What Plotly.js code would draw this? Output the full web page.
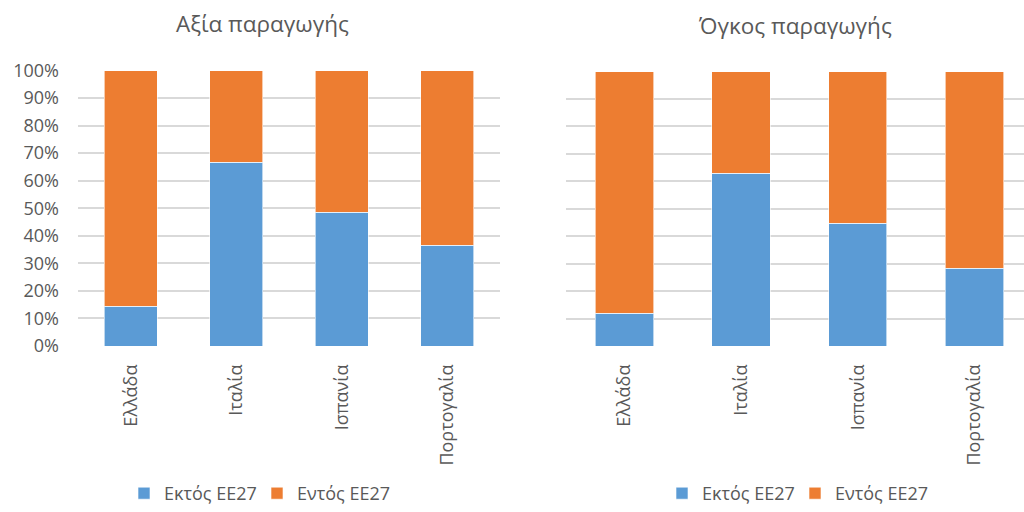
<!DOCTYPE html>
<html>
<head>
<meta charset="utf-8">
<script src="https://cdn.plot.ly/plotly-3.0.1.min.js"></script>
<style>html,body{margin:0;padding:0;background:#fff}#chart{width:1024px;height:512px}</style>
</head>
<body>
<div id="chart"></div>
<script>
const categories = ["Ελλάδα", "Ιταλία", "Ισπανία", "Πορτογαλία"];
const titleValue = "Αξία παραγωγής";
const titleVolume = "Όγκος παραγωγής";
const seriesNames = ["Εκτός ΕΕ27", "Εντός ΕΕ27"];
const valueOutside = [0.145, 0.667, 0.485, 0.366];
const valueInside = valueOutside.map(v => 1 - v);
const volumeOutside = [0.119, 0.629, 0.447, 0.283];
const volumeInside = volumeOutside.map(v => 1 - v);
const yTickVals = [0,0.1,0.2,0.3,0.4,0.5,0.6,0.7,0.8,0.9,1];
const yTickText = ["0%","10%","20%","30%","40%","50%","60%","70%","80%","90%","100%"];

const BLUE = "#5B9BD5", ORANGE = "#ED7D31", TXT = "#595959", GRID = "#d9d9d9";
const FONT = "Open Sans";

function bar(y, name, color, xa, ya, legend, showlegend) {
  return {type: "bar", x: categories, y: y, name: name, xaxis: xa, yaxis: ya,
    legend: legend, showlegend: showlegend,
    marker: {color: color, line: {color: "rgba(255,255,255,0.6)", width: 1}},
    width: 0.5, hoverinfo: "x+y"};
}

const data = [
  bar(valueOutside, seriesNames[0], BLUE, "x", "y", "legend", true),
  bar(valueInside, seriesNames[1], ORANGE, "x", "y", "legend", true),
  bar(volumeOutside, seriesNames[0], BLUE, "x2", "y2", "legend2", true),
  bar(volumeInside, seriesNames[1], ORANGE, "x2", "y2", "legend2", true)
];

const axisX = (domain, range, anchor) => ({
  domain: domain, range: range, anchor: anchor, type: "category",
  showgrid: false, zeroline: false, showline: false, ticks: "",
  tickangle: -90, tickfont: {family: FONT, size: 18, color: TXT},
  ticklabelstandoff: 14, automargin: false, fixedrange: true
});
const axisY = (domain, anchor, showlabels) => ({
  domain: domain, range: [0, 1], anchor: anchor,
  tickvals: yTickVals, ticktext: yTickText, showticklabels: showlabels,
  showgrid: true, gridcolor: GRID, gridwidth: 2, zeroline: false, showline: false, ticks: "",
  tickfont: {family: FONT, size: 18, color: TXT},
  ticklabelstandoff: 18, automargin: false, fixedrange: true
});

const legendBase = (x) => ({orientation: "h", x: x, y: 0, xanchor: "left", yanchor: "bottom",
  font: {family: FONT, size: 18, color: TXT}, bgcolor: "rgba(0,0,0,0)",
  itemclick: false, traceorder: "normal", entrywidth: 88, entrywidthmode: "pixels"});

const layout = {
  width: 1024, height: 512,
  margin: {l: 0, r: 0, t: 0, b: 0, pad: 0},
  paper_bgcolor: "#fff", plot_bgcolor: "#fff",
  barmode: "stack", bargap: 0.5,
  font: {family: FONT, color: TXT},
  xaxis: axisX([78/1024, 500/1024], [-0.5, 3.5], "y"),
  yaxis: axisY([166/512, 441.5/512], "x", true),
  xaxis2: axisX([566/1024, 1], [-0.5, 3.425], "y2"),
  yaxis2: axisY([166/512, 440.5/512], "x2", false),
  legend: legendBase(124/1024),
  legend2: legendBase(662/1024),
  annotations: [
    {text: titleValue, xref: "paper", yref: "paper", x: 262/1024, y: (512-23)/512,
      xanchor: "center", yanchor: "middle", showarrow: false,
      font: {family: FONT, size: 22.5, color: TXT}},
    {text: titleVolume, xref: "paper", yref: "paper", x: 795/1024, y: (512-25)/512,
      xanchor: "center", yanchor: "middle", showarrow: false,
      font: {family: FONT, size: 22.5, color: TXT}}
  ],
  showlegend: true
};

Plotly.newPlot("chart", data, layout, {displayModeBar: false, staticPlot: true});
</script>
</body>
</html>
